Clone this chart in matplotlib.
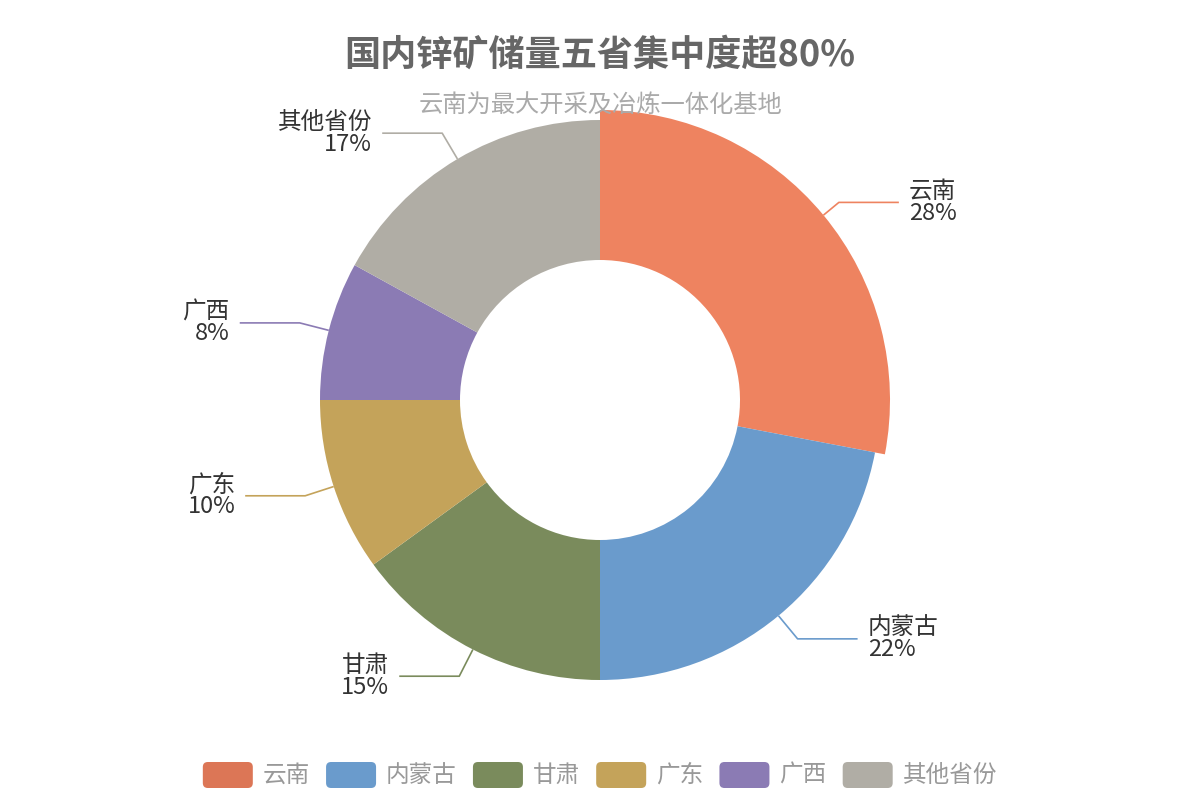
import matplotlib
matplotlib.use('Agg')
import matplotlib.pyplot as plt
from matplotlib.patches import FancyBboxPatch
import numpy as np

categories = ['云南', '内蒙古', '甘肃', '广东', '广西', '其他省份']
values = [28, 22, 15, 10, 8, 17]
colors = ['#DC7656', '#6A9BCC', '#7A8B5C', '#C4A35A', '#8B7BB4', '#B0ADA5']
highlight_color = '#EE8360'
title = '国内锌矿储量五省集中度超80%'
subtitle = '云南为最大开采及冶炼一体化基地'

plt.rcParams['font.family'] = ['Noto Sans CJK SC', 'DejaVu Sans']

W, H = 1200, 800
fig = plt.figure(figsize=(12, 8), dpi=100)
ax = fig.add_axes([0, 0, 1, 1])


def py(y):
    return H - y


cx, cy = 600, py(400)
R, R0 = 280, 140
wedges, _ = ax.pie(values, colors=colors, startangle=90, counterclock=False,
                   center=(cx, cy), radius=R,
                   wedgeprops=dict(width=R - R0, linewidth=0))
ax.set_xlim(0, W)
ax.set_ylim(0, H)
ax.set_aspect('equal')
ax.axis('off')

# emphasised first slice
wedges[0].set_radius(R + 10)
wedges[0].set_width(R + 10 - R0)
wedges[0].set_facecolor(highlight_color)

total = sum(values)
for i, w in enumerate(wedges):
    mid = np.deg2rad((w.theta1 + w.theta2) / 2)
    r_start = w.r
    x0, y0 = cx + r_start * np.cos(mid), cy + r_start * np.sin(mid)
    x1, y1 = cx + 310 * np.cos(mid), cy + 310 * np.sin(mid)
    side = 1 if np.cos(mid) >= 0 else -1
    x2 = x1 + side * 60
    lc = highlight_color if i == 0 else colors[i]
    ax.plot([x0, x1, x2], [y0, y1, y1], color=lc, lw=1.2, solid_capstyle='butt')
    pct = round(values[i] / total * 100)
    ax.text(x2 + side * 10, y1, f'{categories[i]}\n{pct}%',
            ha='left' if side > 0 else 'right', va='center',
            multialignment='left' if side > 0 else 'right',
            fontsize=17, color='#333333', linespacing=0.95)

ax.text(600, py(55), title, ha='center', va='center', fontsize=26,
        fontweight='bold', color='#666666')
ax.text(600, py(106), subtitle, ha='center', va='center', fontsize=17.5,
        color='#AAAAAA')

# legend
renderer = fig.canvas.get_renderer()
rw, rh = 50, 26
gap_text, gap_item = 10, 16
ly = py(775)
texts = []
widths = []
for c in categories:
    t = ax.text(0, ly, c, ha='left', va='center', fontsize=17, color='#999999')
    texts.append(t)
    widths.append(t.get_window_extent(renderer).width)
total_w = sum(rw + gap_text + wd for wd in widths) + gap_item * (len(categories) - 1)
x = 600 - total_w / 2
for i, c in enumerate(categories):
    box = FancyBboxPatch((x, ly - rh / 2), rw, rh,
                         boxstyle='round,pad=0,rounding_size=5',
                         facecolor=colors[i], edgecolor='none')
    ax.add_patch(box)
    texts[i].set_x(x + rw + gap_text)
    x += rw + gap_text + widths[i] + gap_item

fig.savefig('out.png', dpi=100)
